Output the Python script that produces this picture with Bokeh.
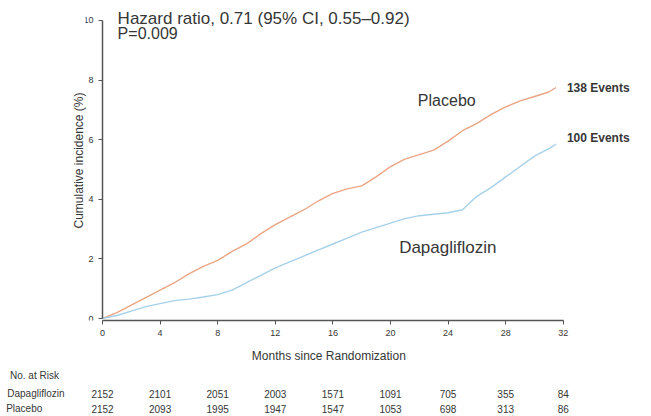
from bokeh.plotting import figure
from bokeh.layouts import column
from bokeh.models import Range1d, Label, LabelSet, ColumnDataSource, FixedTicker, LinearAxis
from bokeh.core.properties import value
from bokeh.embed import file_html
from bokeh.resources import INLINE

# ---- data ----
months = [0, 1, 2, 3, 4, 5, 6, 7, 8, 9, 10, 11, 12, 13, 14, 15, 16, 17, 18, 19,
          20, 21, 22, 23, 24, 25, 26, 27, 28, 29, 30, 31, 31.5]
placebo = [0, 0.2, 0.45, 0.7, 0.95, 1.2, 1.5, 1.75, 1.95, 2.25, 2.5, 2.85, 3.15, 3.4,
           3.65, 3.95, 4.2, 4.35, 4.45, 4.75, 5.1, 5.35, 5.5, 5.65, 5.95, 6.3, 6.55,
           6.85, 7.1, 7.3, 7.45, 7.6, 7.75]
dapagliflozin = [0, 0.1, 0.25, 0.4, 0.5, 0.6, 0.65, 0.72, 0.8, 0.95, 1.2, 1.45, 1.7,
                 1.9, 2.1, 2.3, 2.5, 2.7, 2.9, 3.05, 3.2, 3.35, 3.45, 3.5, 3.55, 3.65,
                 4.1, 4.4, 4.75, 5.1, 5.45, 5.7, 5.85]

x_ticks = [0, 4, 8, 12, 16, 20, 24, 28, 32]
y_ticks = [0, 2, 4, 6, 8, 10]
risk_dapa = ["2152", "2101", "2051", "2003", "1571", "1091", "705", "355", "84"]
risk_placebo = ["2152", "2093", "1995", "1947", "1547", "1053", "698", "313", "86"]
risk_rows = ["No. at Risk", "Dapagliflozin", "Placebo"]

x_title = "Months since Randomization"
y_title = "Cumulative incidence (%)"
hr_text = "Hazard ratio, 0.71 (95% CI, 0.55\u20130.92)"
p_text = "P=0.009"
placebo_events = "138 Events"
dapa_events = "100 Events"

FONT = "Liberation Sans"
TXT = "#363636"
C_PLA = "#eca584"
C_DAPA = "#a6d1ea"
NB = "\u00a0"

LEFT = 85
PX_PER_MONTH = 14.4
xr = Range1d(-(102 - LEFT) / PX_PER_MONTH, (645 - 102) / PX_PER_MONTH)
FW = 645 - LEFT

p = figure(frame_width=FW, frame_height=320,
           min_border_left=LEFT, min_border_right=0, min_border_top=0, min_border_bottom=45,
           output_backend="svg", toolbar_location=None,
           x_range=xr, y_range=Range1d(-0.067, 10.67))
p.outline_line_color = None
p.grid.visible = False

p.line(months, placebo, line_color=C_PLA, line_width=1.4)
p.line(months, dapagliflozin, line_color=C_DAPA, line_width=1.4)

for ax in (p.xaxis, p.yaxis):
    ax.axis_line_color = "#555555"
    ax.axis_line_width = 1.5
    ax.major_tick_line_color = "#555555"
    ax.major_tick_out = 4
    ax.major_tick_in = 0
    ax.minor_tick_line_color = None
    ax.major_label_text_font = FONT
    ax.major_label_text_font_size = "9px"
    ax.major_label_text_color = TXT
    ax.axis_label_text_font = FONT
    ax.axis_label_text_font_style = "normal"
    ax.axis_label_text_color = TXT

p.xaxis.ticker = FixedTicker(ticks=x_ticks)
p.yaxis.ticker = FixedTicker(ticks=y_ticks)
p.xaxis.bounds = (0, 32)
p.yaxis.bounds = (0, 10)
p.yaxis.fixed_location = 0
# trailing no-break spaces shift the centred x title to sit under the axis span
p.xaxis.axis_label = x_title + NB * 22
p.xaxis.axis_label_text_font_size = "12px"
p.xaxis.axis_label_standoff = 10

# y title carried by a bare left axis (the tick axis sits at month 0)
y_title_axis = LinearAxis(ticker=FixedTicker(ticks=[]), axis_label=y_title,
                          axis_line_color=None, major_tick_line_color=None,
                          minor_tick_line_color=None,
                          axis_label_text_font=FONT, axis_label_text_font_size="12px",
                          axis_label_text_font_style="normal",
                          axis_label_text_color=TXT, axis_label_standoff=0)
p.add_layout(y_title_axis, "left")


def lab(fig, x, y, t, size, align="left", style="normal"):
    fig.add_layout(Label(x=x, y=y, text=t, text_font=FONT, text_font_size=size,
                         text_color=TXT, text_align=align, text_baseline="middle",
                         text_font_style=style))


lab(p, 1.05, 10.07, hr_text, "17px")
lab(p, 1.05, 9.56, p_text, "16px")
lab(p, 21.9, 7.3, "Placebo", "16px")
lab(p, 20.6, 2.38, "Dapagliflozin", "17px")
lab(p, 32.25, 7.75, placebo_events, "12px", style="bold")
lab(p, 32.25, 6.05, dapa_events, "12px", style="bold")

# ---- number at risk table (own figure, same x range) ----
row_y = [10, 28, 43]
t = figure(frame_width=FW, frame_height=49,
           min_border_left=LEFT, min_border_right=0, min_border_top=0, min_border_bottom=0,
           output_backend="svg", toolbar_location=None,
           x_range=xr, y_range=Range1d(49, 0), x_axis_type=None)
t.outline_line_color = None
t.grid.visible = False
ya = t.yaxis[0]
ya.ticker = FixedTicker(ticks=row_y)
pads = [2, 0, 8]
ya.major_label_overrides = {y: name + NB * n for y, name, n in zip(row_y, risk_rows, pads)}
ya.axis_line_color = None
ya.major_tick_line_color = None
ya.minor_tick_line_color = None
ya.major_label_standoff = 15
ya.major_label_text_font = FONT
ya.major_label_text_font_size = "10px"
ya.major_label_text_color = TXT

src = ColumnDataSource(dict(
    x=x_ticks + x_ticks,
    y=[row_y[1]] * len(x_ticks) + [row_y[2]] * len(x_ticks),
    t=risk_dapa + risk_placebo))
t.add_layout(LabelSet(x="x", y="y", text="t", source=src, text_font=value(FONT),
                      text_font_size=value("10px"), text_color=TXT, text_align="center",
                      text_baseline="middle"))

layout = column(p, t, spacing=0)
open("out.html", "w").write(file_html(layout, INLINE))
